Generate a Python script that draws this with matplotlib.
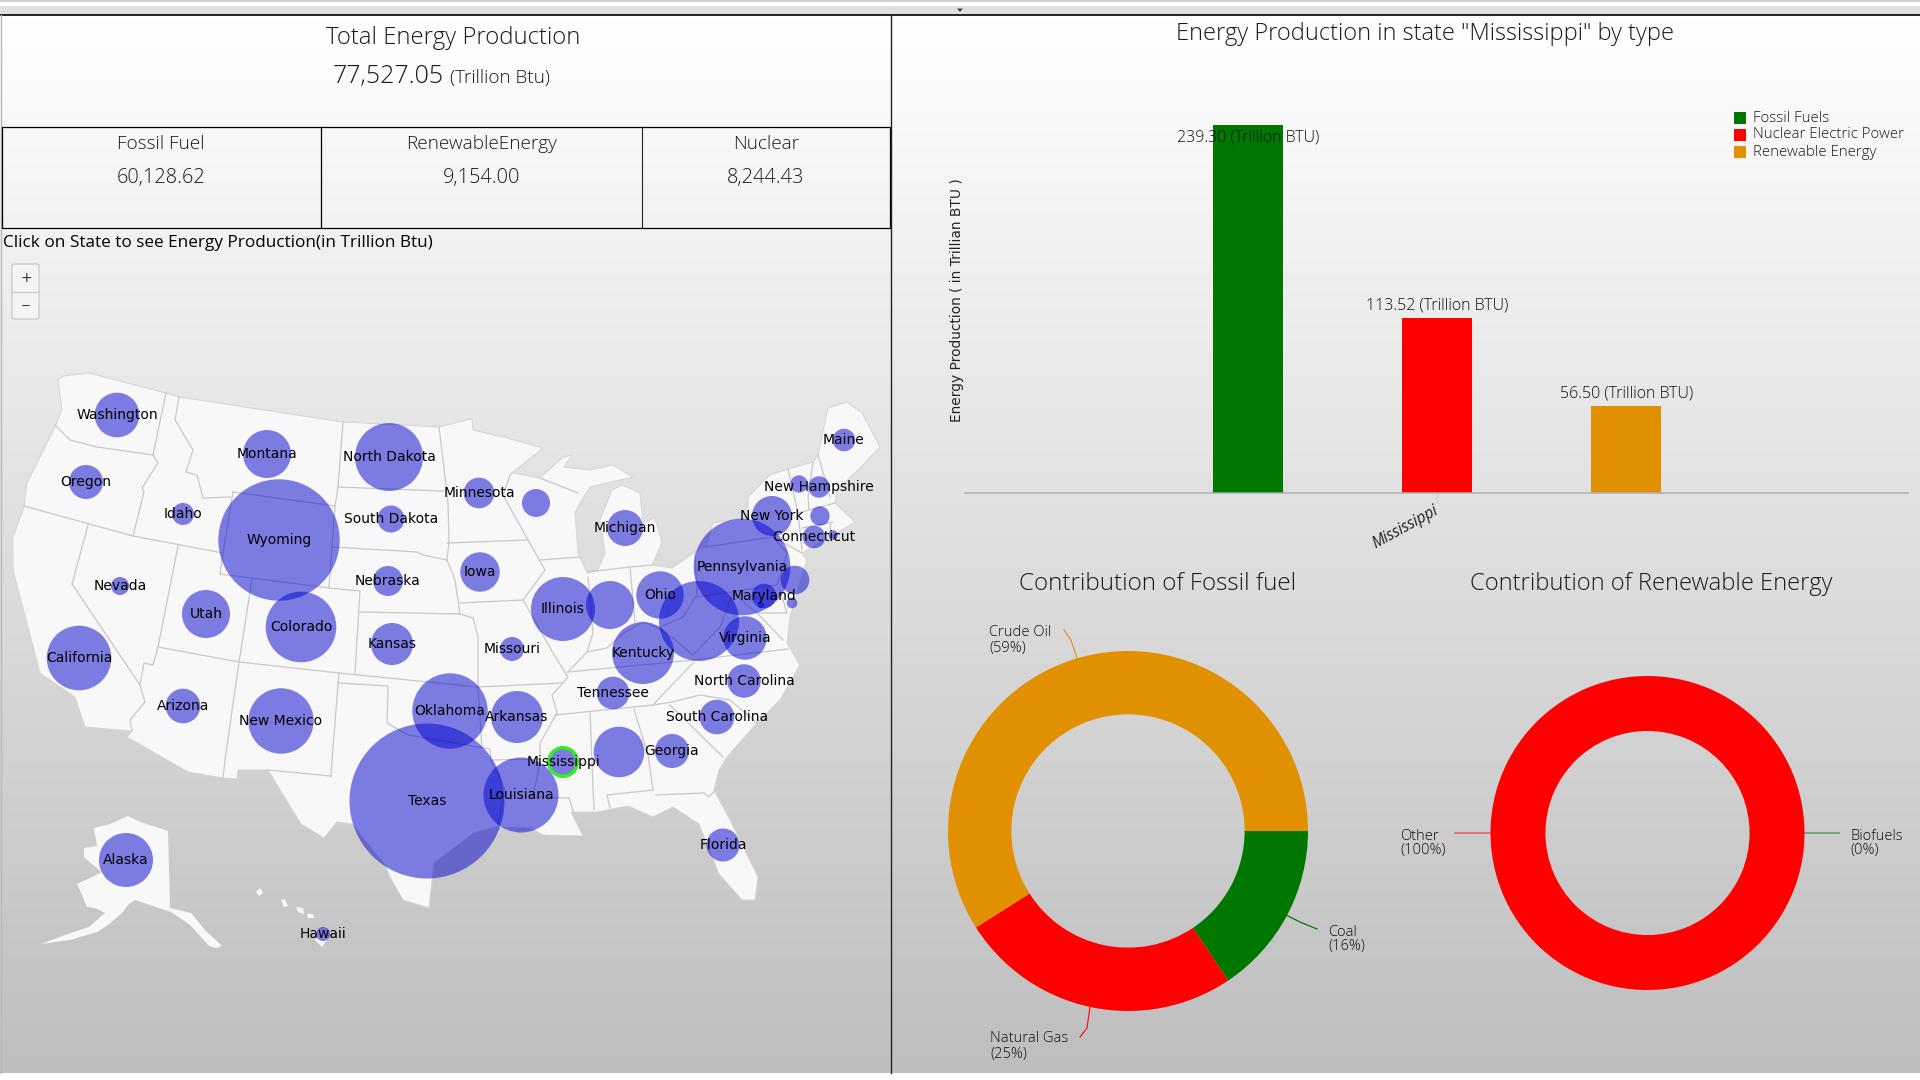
import numpy as np
import matplotlib
matplotlib.use('Agg')
import matplotlib.pyplot as plt
from matplotlib.patches import Circle, Polygon, Rectangle, FancyBboxPatch

W, H = 1920, 1080
UI_FONT = 'Open Sans'
MAP_FONT = 'DejaVu Sans'

# headline numbers
total_energy = '77,527.05'
table_names = ['Fossil Fuel', 'RenewableEnergy', 'Nuclear']
table_values = ['60,128.62', '9,154.00', '8,244.43']

# bar chart
bar_names = ['Fossil Fuels', 'Nuclear Electric Power', 'Renewable Energy']
bar_values = [239.30, 113.52, 56.50]
bar_colors = ['#007700', '#ff0000', '#e09000']

# donuts
fossil_names = ['Coal', 'Natural Gas', 'Crude Oil']
fossil_values = [15.6, 25.4, 59.0]
fossil_colors = ['#007700', '#ff0000', '#e09000']
renew_names = ['Biofuels', 'Other']
renew_values = [0, 100]
renew_colors = ['#007700', '#ff0000']

# bubbles in screen pixels
states = ['Washington', 'Oregon', 'Idaho', 'Montana', 'North Dakota', 'South Dakota', 'Wyoming',
          'Nebraska', 'Nevada', 'Utah', 'Colorado', 'Kansas', 'California', 'Arizona', 'New Mexico',
          'Minnesota', 'Wisconsin', 'Michigan', 'Iowa', 'Illinois', 'Indiana', 'Ohio', 'West Virginia',
          'Pennsylvania', 'New York', 'Maine', 'Vermont', 'New Hampshire', 'Massachusetts', 'Connecticut',
          'Rhode Island', 'New Jersey', 'Maryland', 'Delaware', 'DC', 'Virginia', 'Kentucky', 'Missouri',
          'North Carolina', 'Tennessee', 'South Carolina', 'Arkansas', 'Oklahoma', 'Mississippi',
          'Alabama', 'Georgia', 'Texas', 'Louisiana', 'Florida', 'Alaska', 'Hawaii']
state_x = [117, 86, 183, 267, 389, 391, 279, 388, 120, 206, 301, 392, 79, 183, 281,
           479, 536, 625, 480, 563, 610, 660, 699, 742, 772, 844, 799, 819, 820, 814,
           833, 795, 764, 792, 761, 745, 643, 512, 744, 613, 717, 517, 450, 563,
           619, 672, 427, 521, 723, 126, 323]
state_y = [415, 482, 514, 454, 457, 519, 540, 581, 586, 614, 627, 644, 658, 706, 721,
           493, 503, 528, 572, 609, 605, 595, 621, 567, 516, 440, 484, 487, 516, 537,
           535, 580, 596, 603, 605, 638, 653, 649, 681, 693, 717, 717, 711, 762,
           752, 751, 801, 795, 845, 860, 934]
state_r = [22.3, 17, 11, 24, 34, 13.5, 60.7, 15, 9, 24, 35.3, 21, 32.3, 17.3, 32.7,
           15.3, 14, 18, 19.7, 32, 24, 23.7, 40, 48.3, 20, 11.3, 8.7, 10.7, 9.7, 11.3,
           4.7, 14.3, 12.3, 5.3, 3.3, 21.7, 31, 12, 16.7, 16.3, 17.3, 26, 37.7, 15.3,
           25.3, 17, 77.5, 37.5, 16.5, 27, 7]
no_label = ['Wisconsin', 'Indiana', 'West Virginia', 'Vermont', 'Massachusetts', 'Rhode Island',
            'New Jersey', 'Delaware', 'DC', 'Alabama']
selected_state = 'Mississippi'

# land outline, screen pixels
usa_outline = [(58, 380), (63, 376), (89, 373), (166, 393), (179, 397), (343, 422), (439, 427), (467, 420),
               (472, 419), (473, 430), (507, 438), (543, 448), (512, 473), (540, 478), (563, 457), (572, 455),
               (564, 467), (590, 470), (613, 465), (633, 477), (620, 480), (590, 487), (575, 512), (578, 553),
               (587, 573), (598, 570), (605, 553), (600, 520), (612, 490), (622, 485), (640, 493), (643, 523),
               (655, 518), (662, 543), (652, 565), (672, 568), (695, 552), (707, 545), (713, 523), (748, 517),
               (748, 497), (770, 475), (788, 469), (813, 462), (818, 455), (828, 408), (847, 402), (862, 413),
               (880, 447), (860, 468), (837, 490), (835, 503), (855, 522), (830, 537), (802, 553), (807, 560),
               (797, 593), (790, 617), (787, 643), (800, 665), (780, 700), (757, 723), (727, 757), (719, 770),
               (714, 790), (730, 820), (758, 877), (755, 900), (742, 900), (719, 874), (699, 824), (673, 807),
               (653, 817), (628, 806), (597, 812), (571, 812), (577, 824), (583, 836), (543, 835), (531, 828),
               (495, 827), (474, 833), (434, 863), (429, 908), (403, 900), (390, 877), (385, 865), (352, 824),
               (337, 822), (324, 838), (301, 824), (268, 770), (238, 770), (237, 779), (223, 778), (188, 772),
               (127, 737), (132, 731), (85, 727), (75, 697), (40, 673), (28, 627), (13, 570), (13, 537),
               (24, 507), (27, 483), (55, 427), (62, 410)]
alaska_outline = [(128, 816), (140, 822), (168, 831), (170, 908), (191, 913), (205, 930), (222, 946), (216, 948),
                  (209, 946), (190, 925), (171, 912), (135, 900), (128, 905), (122, 913), (108, 925), (97, 932),
                  (70, 940), (41, 944), (65, 935), (89, 927), (105, 913), (95, 908), (87, 907), (82, 895),
                  (77, 884), (90, 878), (102, 872), (93, 865), (84, 857), (84, 848), (97, 846), (94, 828),
                  (110, 824)]
hawaii_islands = [[(256, 892), (260, 888), (263, 893), (259, 896)],
                  [(281, 900), (285, 899), (288, 906), (284, 907)],
                  [(296, 907), (303, 908), (304, 914), (298, 912)],
                  [(307, 914), (313, 914), (314, 918), (308, 918)],
                  [(314, 931), (325, 928), (328, 938), (322, 947), (316, 941)]]

# state borders, screen pixels
borders = [
    [(55, 425), (70, 440), (97, 447), (153, 455)],
    [(166, 393), (153, 455), (158, 463), (142, 488), (144, 492), (133, 536)],
    [(24, 506), (133, 536), (223, 553)],
    [(179, 397), (175, 420), (193, 450), (186, 472), (197, 475), (203, 498), (230, 497)],
    [(233, 492), (335, 506), (329, 588), (220, 574), (223, 553), (233, 492)],
    [(178, 546), (158, 647), (239, 662), (339, 673), (478, 687)],
    [(252, 580), (239, 662), (225, 760), (223, 778)],
    [(329, 588), (360, 591), (355, 673)],
    [(339, 673), (332, 760), (331, 776)],
    [(268, 770), (331, 776)],
    [(338, 683), (388, 686), (387, 723), (408, 735), (449, 742), (490, 749), (491, 760), (505, 790), (497, 827)],
    [(88, 525), (72, 584), (140, 685), (145, 702), (130, 720), (132, 731)],
    [(140, 685), (144, 663), (153, 665), (158, 647)],
    [(343, 422), (338, 487), (335, 506)],
    [(338, 487), (443, 491)],
    [(332, 547), (417, 552), (423, 555), (447, 560)],
    [(360, 612), (460, 614), (473, 618), (478, 637), (478, 687), (482, 748)],
    [(439, 427), (443, 460), (448, 503), (449, 542), (447, 560), (455, 580), (460, 614)],
    [(447, 543), (528, 540), (503, 495), (510, 475), (512, 473)],
    [(460, 603), (523, 600), (545, 570), (528, 540)],
    [(540, 560), (580, 557)],
    [(523, 600), (553, 653), (568, 677), (563, 683), (552, 695), (557, 713), (540, 743), (540, 763), (533, 797),
     (569, 798), (574, 814)],
    [(478, 687), (563, 683)],
    [(491, 760), (540, 759)],
    [(568, 672), (693, 660), (788, 649)],
    [(694, 662), (667, 690), (653, 705), (555, 715)],
    [(590, 713), (594, 810)],
    [(634, 709), (648, 755), (653, 790), (607, 795), (610, 808)],
    [(656, 795), (704, 793), (709, 797), (719, 786)],
    [(670, 705), (723, 757)],
    [(653, 705), (672, 702), (700, 695), (730, 700), (757, 723)],
    [(568, 672), (587, 652), (607, 648), (625, 632), (643, 622), (658, 628), (673, 638), (693, 655), (720, 627),
     (733, 593)],
    [(588, 577), (593, 633), (587, 652)],
    [(588, 572), (630, 567), (652, 565)],
    [(630, 567), (635, 622)],
    [(695, 552), (697, 595), (683, 617), (658, 628)],
    [(705, 547), (773, 537), (787, 553), (780, 577), (777, 585), (697, 597)],
    [(733, 593), (757, 613), (783, 640)],
    [(780, 590), (787, 613), (757, 613)],
    [(773, 537), (802, 553)],
    [(788, 469), (798, 513), (802, 550)],
    [(813, 462), (808, 497), (809, 510)],
    [(818, 455), (830, 497)],
    [(798, 513), (835, 503)],
    [(802, 528), (833, 522)],
    [(830, 522), (830, 537)],
    [(540, 478), (578, 493)],
]

fig = plt.figure(figsize=(W / 100, H / 100), dpi=100, facecolor='white')
ax = fig.add_axes([0, 0, 1, 1])
ax.set_xlim(0, W)
ax.set_ylim(H, 0)
ax.axis('off')


def sub_axes(left, top, right, bottom):
    # axes placed by screen pixels
    a = fig.add_axes([left / W, 1 - bottom / H, (right - left) / W, (bottom - top) / H])
    a.patch.set_visible(False)
    return a


def ui_text(x, y, s, size, color='#1a1a1a', ha='center', weight='light', **kw):
    ax.text(x, y, s, fontsize=size, color=color, ha=ha, va='center', family=UI_FONT, weight=weight, **kw)


# page background
gradient = np.linspace(0, 1, 256).reshape(-1, 1)
ax.imshow(gradient, extent=(0, W, 1073, 15), aspect='auto', zorder=0,
          cmap=matplotlib.colors.LinearSegmentedColormap.from_list('bg', ['#ffffff', '#bebebe']))
ax.set_xlim(0, W)
ax.set_ylim(H, 0)
ax.add_patch(Rectangle((0, 0), W, 2, fc='#d0d0d0', ec='none', zorder=1))
ax.add_patch(Rectangle((0, 6), W, 9, fc='#e0e0e0', ec='none', zorder=1))
ax.plot([0, W], [15, 15], color='black', lw=1.2, zorder=2)
ax.plot([890.5, 890.5], [15, 1073], color='#222222', lw=1, zorder=6)
ax.plot([0.5, 0.5], [15, 1073], color='#b8b8b8', lw=1, zorder=2)
ax.add_patch(Polygon([(957, 8.5), (963, 8.5), (960, 12)], fc='#444444', ec='none', zorder=3))

# left header and table
ui_text(453, 37.5, 'Total Energy Production', 17.2)
ui_text(388, 77, total_energy, 18)
ui_text(500, 77.5, '(Trillion Btu)', 13.6)
ax.add_patch(Rectangle((2, 127), 888, 101, fc='none', ec='black', lw=0.9, zorder=4))
ax.plot([321, 321], [127, 228], color='black', lw=0.9, zorder=4)
ax.plot([642, 642], [127, 228], color='#222222', lw=0.8, zorder=4)
for x, name, value in zip([161, 482, 766], table_names, table_values):
    ui_text(x, 144, name, 13.7)
    ui_text(x, 178.5, value, 14.3)
ui_text(3, 243, 'Click on State to see Energy Production(in Trillion Btu)', 12.3, color='black', ha='left',
        weight='normal')

# zoom buttons
ax.add_patch(FancyBboxPatch((12, 264), 27, 55, boxstyle='round,pad=0,rounding_size=2', fc='#f4f4f4',
                            ec='#cccccc', lw=1, zorder=3))
ax.plot([12, 39], [292, 292], color='#cccccc', lw=1, zorder=4)
ax.text(26, 278, '+', fontsize=10, ha='center', va='center', color='#333333', zorder=4)
ax.text(26, 306, '\u2212', fontsize=8.5, ha='center', va='center', color='#333333', zorder=4)

# map
land = '#f8f8f8'
ax.add_patch(Polygon(usa_outline, fc=land, ec='#d4d4d4', lw=0.7, zorder=2))
ax.add_patch(Polygon(alaska_outline, fc=land, ec='none', zorder=2))
for island in hawaii_islands:
    ax.add_patch(Polygon(island, fc=land, ec='none', zorder=2))
for line in borders:
    xs, ys = zip(*line)
    ax.plot(xs, ys, color='#c8c8c8', lw=0.9, zorder=2.5, solid_joinstyle='round')

for name, x, y, r in zip(states, state_x, state_y, state_r):
    ax.add_patch(Circle((x, y), r, fc='#0000cd', ec='none', alpha=0.5, zorder=3))
    if name == selected_state:
        ax.add_patch(Circle((x, y), r - 1, fc='none', ec='#33ee22', lw=2.5, zorder=3.5))
for name, x, y in zip(states, state_x, state_y):
    if name not in no_label:
        ax.text(x, y, name, fontsize=10, family=MAP_FONT, color='black', ha='center', va='center', zorder=5)

# bar chart
bar_ax = sub_axes(965, 40, 1908, 493)
bar_pos = list(range(len(bar_values)))
bar_ax.bar(bar_pos, bar_values, width=0.37, color=bar_colors)
bar_ax.set_xlim(-1.497, 3.49)
bar_ax.set_ylim(0, 239.3 * 453 / 368)
for spine in ['top', 'left', 'right']:
    bar_ax.spines[spine].set_visible(False)
bar_ax.spines['bottom'].set_color('#b0b0b0')
bar_ax.spines['bottom'].set_linewidth(1.1)
bar_ax.set_yticks([])
bar_ax.set_xticks([1])
bar_ax.set_xticklabels([''])
bar_ax.tick_params(axis='x', length=8, color='#c8d4ea', width=0.8)
for pos, val in zip(bar_pos, bar_values):
    offset = -13 if val > 200 else 13
    bar_ax.annotate(f'{val:.2f} (Trillion BTU)', (pos, val), xytext=(0, offset), textcoords='offset pixels',
                    ha='center', va='center', fontsize=11.5, family=UI_FONT, weight='light', color='#111111',
                    clip_on=False)

ui_text(1425.5, 34.5, 'Energy Production in state "Mississippi" by type', 17)
ax.text(957, 300, 'Energy Production ( in Trillian BTU )', fontsize=9.9, family=MAP_FONT, rotation=90,
        ha='center', va='center', color='#222222')
ax.text(1405, 527, 'Mississippi', fontsize=11.2, family=UI_FONT, rotation=29, style='italic',
        ha='center', va='center', color='#222222')

for y0, name, color in zip([118, 135, 152], bar_names, bar_colors):
    ax.add_patch(Rectangle((1734, y0 - 6), 12, 12, fc=color, ec='none', zorder=3))
    ui_text(1753, y0, name, 10.8, ha='left')

# donuts
ui_text(1158, 584.5, 'Contribution of Fossil fuel', 17.4)
ui_text(1651, 584.5, 'Contribution of Renewable Energy', 17.1)

fossil_ax = sub_axes(1128 - 180, 831 - 180, 1128 + 180, 831 + 180)
fossil_ax.pie(fossil_values, colors=fossil_colors, startangle=0, counterclock=False, radius=1,
              wedgeprops={'width': 0.352})
fossil_ax.set_xlim(-1, 1)
fossil_ax.set_ylim(-1, 1)

renew_ax = sub_axes(1647.5 - 157, 833 - 157, 1647.5 + 157, 833 + 157)
renew_ax.pie(renew_values, colors=renew_colors, startangle=0, counterclock=False, radius=1,
             wedgeprops={'width': 0.35})
renew_ax.set_xlim(-1, 1)
renew_ax.set_ylim(-1, 1)

ax.plot([1077, 1071, 1064], [658, 640, 630], color='#e09000', lw=0.8, zorder=3)
ax.plot([1286, 1300, 1317], [915, 922, 929], color='#007700', lw=0.9, zorder=3)
ax.plot([1090, 1087, 1080], [1007, 1028, 1037], color='#ff0000', lw=0.8, zorder=3)
ax.plot([1455, 1491], [833, 833], color='#e87070', lw=1.3, zorder=3)
ax.plot([1804, 1839], [833, 833], color='#66aa66', lw=1.3, zorder=3)

labels = [(989, 633, 'Crude Oil', '(59%)'), (1328, 932, 'Coal', '(16%)'), (990, 1039, 'Natural Gas', '(25%)'),
          (1400, 836, 'Other', '(100%)'), (1850, 836, 'Biofuels', '(0%)')]
for x, y, name, pct in labels:
    ui_text(x, y, name, 10.6, color='#111111', ha='left')
    ui_text(x, y + 15, pct, 10.6, color='#111111', ha='left')

fig.savefig('out.png', dpi=100, facecolor='white')
